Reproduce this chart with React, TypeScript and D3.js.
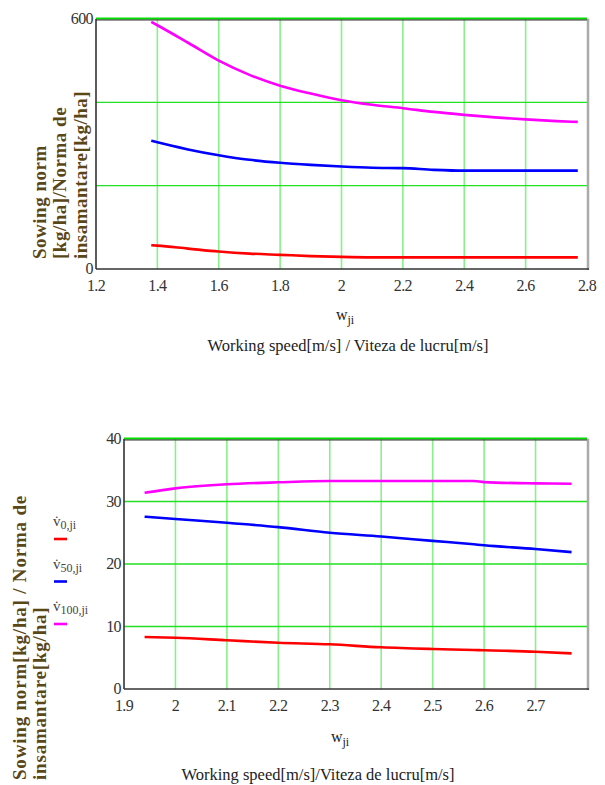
import React from "react";
import * as d3 from "d3";

// ---- Top chart data ----
const topSpeed = [1.38, 1.4, 1.5, 1.6, 1.7, 1.8, 1.9, 2.0, 2.1, 2.2, 2.3, 2.4, 2.5, 2.6, 2.7, 2.77];
const topV100 = [593, 585, 543, 500, 466, 440, 421, 405, 394, 386, 377, 370, 364, 359, 355, 353];
const topV50 = [308, 304, 287, 273, 262, 255, 250, 246, 243, 242, 238, 236, 236, 236, 236, 236];
const topV0 = [57, 56, 49, 42, 37, 34, 31, 29, 28, 28, 28, 28, 28, 28, 28, 28];
const topXTicks = [1.2, 1.4, 1.6, 1.8, 2.0, 2.2, 2.4, 2.6, 2.8];
const topYTicks = [0, 200, 400, 600];
const topYLabels = ["0", "", "", "600"];

// ---- Bottom chart data ----
const botSpeed = [1.94, 2.0, 2.1, 2.2, 2.3, 2.4, 2.5, 2.58, 2.6, 2.7, 2.77];
const botV100 = [31.4, 32.1, 32.75, 33.07, 33.28, 33.28, 33.28, 33.28, 33.1, 32.9, 32.85];
const botV50 = [27.57, 27.2, 26.6, 25.9, 25.0, 24.4, 23.7, 23.15, 23.0, 22.4, 21.9];
const botV0 = [8.32, 8.2, 7.8, 7.4, 7.15, 6.67, 6.4, 6.25, 6.2, 5.97, 5.7];
const botXTicks = [1.9, 2.0, 2.1, 2.2, 2.3, 2.4, 2.5, 2.6, 2.7];
const botYTicks = [0, 10, 20, 30, 40];

const legendSubs = ["0,ji", "50,ji", "100,ji"];

const RED = "#ff0000";
const BLUE = "#0000ff";
const MAG = "#ff00ff";
const HGRID = "#22e022";
const VGRID = "#88f088";
const TICK = "#333";
const LABEL = "#5a4718";
const SERIF = "Liberation Serif, serif";

function fmt(v: number) {
  const s = d3.format(".1f")(v);
  return s.endsWith(".0") ? s.slice(0, -2) : s;
}

type PanelProps = {
  left: number; right: number; top: number; bottom: number;
  xDomain: [number, number]; yDomain: [number, number];
  xTicks: number[]; yTicks: number[]; yLabels?: string[];
  speed: number[]; series: { values: number[]; color: string }[];
};

function Panel(p: PanelProps) {
  const x = d3.scaleLinear().domain(p.xDomain).range([p.left, p.right]);
  const y = d3.scaleLinear().domain(p.yDomain).range([p.bottom, p.top]);
  const line = (vals: number[]) =>
    d3.line<number>().x((_, i) => x(p.speed[i])).y((v) => y(v)).curve(d3.curveMonotoneX)(vals) || "";
  const innerX = p.xTicks.filter((t) => t > p.xDomain[0] + 1e-9 && t < p.xDomain[1] - 1e-9);
  const innerY = p.yTicks.filter((t) => t > p.yDomain[0] && t < p.yDomain[1]);
  return (
    <g>
      <line x1={p.right + 1} x2={p.right + 1} y1={p.top} y2={p.bottom + 1} stroke="#aaa" strokeWidth={2.5} />
      {innerX.map((t) => (
        <line key={"vx" + t} x1={x(t)} x2={x(t)} y1={p.top} y2={p.bottom} stroke={VGRID} strokeWidth={1.6} />
      ))}
      {innerY.map((t) => (
        <line key={"hy" + t} x1={p.left} x2={p.right} y1={y(t)} y2={y(t)} stroke={HGRID} strokeWidth={1.3} />
      ))}
      <line x1={p.left} x2={p.right} y1={p.top + 0.8} y2={p.top + 0.8} stroke="#333" strokeWidth={1.2} />
      <line x1={p.left} x2={p.right} y1={p.top - 0.6} y2={p.top - 0.6} stroke="#00e000" strokeWidth={1.6} />
      <line x1={p.left} x2={p.left} y1={p.top} y2={p.bottom} stroke="#333" strokeWidth={1.6} />
      <line x1={p.left} x2={p.right + 2} y1={p.bottom} y2={p.bottom} stroke="#333" strokeWidth={1.6} />
      {p.series.map((s, i) => (
        <path key={i} d={line(s.values)} fill="none" stroke={s.color} strokeWidth={2.6} />
      ))}
      {p.yTicks.map((t, i) => {
        const lab = p.yLabels ? p.yLabels[i] : String(t);
        if (!lab) return null;
        return (
          <text key={"yt" + t} x={p.left - 3} y={y(t) + 5} textAnchor="end" fontFamily={SERIF} fontSize={16} letterSpacing={-0.6} fill={TICK}>
            {lab}
          </text>
        );
      })}
      {p.xTicks.map((t) => (
        <text key={"xt" + t} x={x(t)} y={p.bottom + 22} textAnchor="middle" fontFamily={SERIF} fontSize={16} letterSpacing={-0.6} fill={TICK}>
          {fmt(t)}
        </text>
      ))}
    </g>
  );
}

export default function App() {
  return (
    <svg width={605} height={785} style={{ position: "absolute", left: 0, top: 0, background: "#fff" }}>
      <rect width={605} height={785} fill="#fff" />
      <Panel
        left={96} right={587} top={19} bottom={269}
        xDomain={[1.2, 2.8]} yDomain={[0, 600]}
        xTicks={topXTicks} yTicks={topYTicks} yLabels={topYLabels}
        speed={topSpeed}
        series={[{ values: topV0, color: RED }, { values: topV50, color: BLUE }, { values: topV100, color: MAG }]}
      />
      <g fontFamily={SERIF} fontWeight="bold" fontSize={19} letterSpacing={0.5} fill={LABEL}>
        <text transform="translate(46,259) rotate(-90)">Sowing norm</text>
        <text transform="translate(66,259) rotate(-90)">[kg/ha]/Norma de</text>
        <text transform="translate(87,259) rotate(-90)">insamantare[kg/ha]</text>
      </g>
      <text x={345} y={320} textAnchor="middle" fontFamily={SERIF} fontSize={16} fill="#222">
        w<tspan fontSize={12} dy={4}>ji</tspan>
      </text>
      <text x={348} y={351} textAnchor="middle" fontFamily={SERIF} fontSize={16.5} fill="#222">
        Working speed[m/s] / Viteza de lucru[m/s]
      </text>

      <Panel
        left={124} right={587} top={439} bottom={689}
        xDomain={[1.9, 2.8]} yDomain={[0, 40]}
        xTicks={botXTicks} yTicks={botYTicks}
        speed={botSpeed}
        series={[{ values: botV0, color: RED }, { values: botV50, color: BLUE }, { values: botV100, color: MAG }]}
      />
      <g fontFamily={SERIF} fontWeight="bold" fontSize={19} letterSpacing={0.8} fill={LABEL}>
        <text transform="translate(26,780) rotate(-90)">Sowing norm[kg/ha] / Norma de</text>
        <text transform="translate(46,780) rotate(-90)">insamantare[kg/ha]</text>
      </g>
      {legendSubs.map((s, i) => {
        const cy = 522 + i * 42.5;
        const col = [RED, BLUE, MAG][i];
        return (
          <g key={s}>
            <text x={53} y={cy + 4} fontFamily={SERIF} fontSize={15} fill="#444">
              v̇<tspan fontSize={12} dy={3}>{s}</tspan>
            </text>
            <line x1={54} x2={67} y1={cy + 17} y2={cy + 17} stroke={col} strokeWidth={2.6} />
          </g>
        );
      })}
      <text x={340} y={742} textAnchor="middle" fontFamily={SERIF} fontSize={16} fill="#222">
        w<tspan fontSize={12} dy={4}>ji</tspan>
      </text>
      <text x={318} y={780} textAnchor="middle" fontFamily={SERIF} fontSize={16.5} fill="#222">
        Working speed[m/s]/Viteza de lucru[m/s]
      </text>
    </svg>
  );
}
